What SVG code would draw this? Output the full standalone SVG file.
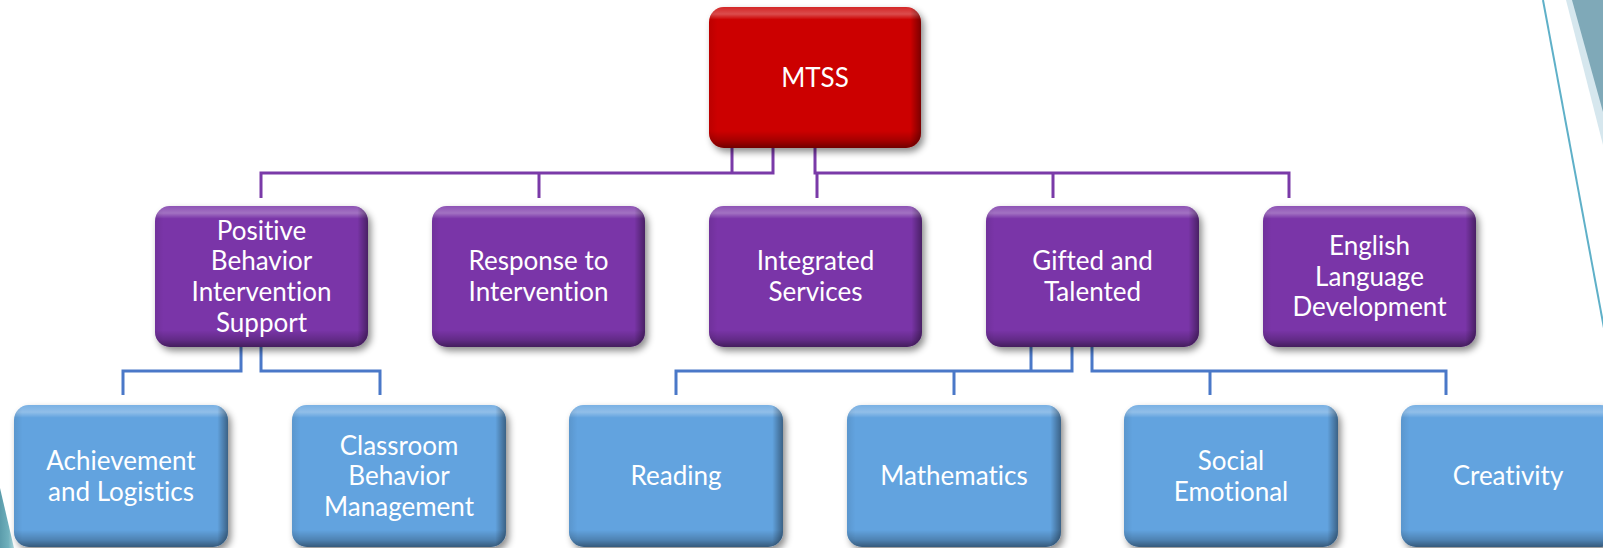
<svg xmlns="http://www.w3.org/2000/svg" width="1603" height="548" viewBox="0 0 1603 548">
<style>
.lbl{font-family:Lato,"Open Sans","Liberation Sans",sans-serif;font-size:26px;fill:#ffffff;text-anchor:middle;font-variant-ligatures:none;font-feature-settings:"liga" 0}
.pc{fill:none;stroke:#7a3aa8;stroke-width:3}
.bc{fill:none;stroke:#4a78c8;stroke-width:3}
.red{fill:#cc0000}
.pur{fill:#7a35a8}
.blu{fill:#62a3df}
.bev{fill:url(#bevV)}
.bevh{fill:url(#bevH)}
</style>
<defs>
<filter id="sh" x="-10%" y="-10%" width="125%" height="130%">
<feDropShadow dx="3" dy="4" stdDeviation="3.5" flood-color="#000" flood-opacity="0.45"/>
</filter>
<linearGradient id="bevV" x1="0" y1="0" x2="0" y2="1">
<stop offset="0" stop-color="#fff" stop-opacity="0.15"/>
<stop offset="0.05" stop-color="#fff" stop-opacity="0.3"/>
<stop offset="0.09" stop-color="#fff" stop-opacity="0"/>
<stop offset="0.88" stop-color="#000" stop-opacity="0"/>
<stop offset="0.95" stop-color="#000" stop-opacity="0.2"/>
<stop offset="1" stop-color="#000" stop-opacity="0.45"/>
</linearGradient>
<linearGradient id="bevH" x1="0" y1="0" x2="1" y2="0">
<stop offset="0" stop-color="#000" stop-opacity="0.08"/>
<stop offset="0.04" stop-color="#000" stop-opacity="0"/>
<stop offset="0.95" stop-color="#000" stop-opacity="0"/>
<stop offset="1" stop-color="#000" stop-opacity="0.4"/>
</linearGradient>
<linearGradient id="tealBL" x1="0" y1="0" x2="1" y2="0">
<stop offset="0" stop-color="#5b9cab"/>
<stop offset="0.6" stop-color="#6fb0bc"/>
<stop offset="1" stop-color="#a9d4da"/>
</linearGradient>
</defs>
<rect width="1603" height="548" fill="#ffffff"/>
<g id="decor">
<polygon points="1566,0 1603,0 1603,145" fill="#d6e7ee"/>
<polygon points="1572,0 1603,0 1603,112" fill="#7fa9b8"/>
<line x1="1543" y1="0" x2="1614" y2="382" stroke="#5fb0c8" stroke-width="2"/>
<polygon points="0,488 14,548 0,548" fill="url(#tealBL)"/>
</g>
<g id="connectors">
<path class="pc" d="M732,148 V173 M773,148 V173 H261 V198 M539,173 V198 M815,148 V173 H1289 V198 M817,173 V198 M1053,173 V198"/>
<path class="bc" d="M241,347 V371 H123 V395 M261,347 V371 H380 V395 M1031,347 V371 M1072,347 V371 H676 V395 M954,371 V395 M1092,347 V371 H1446 V395 M1210,371 V395"/>
</g>
<g id="n-mtss">
<rect class="red" x="709" y="7" width="212" height="141" rx="15" filter="url(#sh)"/>
<rect class="bev" x="709" y="7" width="212" height="141" rx="15"/>
<rect class="bevh" x="709" y="7" width="212" height="141" rx="15"/>
<text class="lbl" x="815" y="86.7">MTSS</text>
</g>
<g id="n-pbis">
<rect class="pur" x="155" y="206" width="213" height="141" rx="15" filter="url(#sh)"/>
<rect class="bev" x="155" y="206" width="213" height="141" rx="15"/>
<rect class="bevh" x="155" y="206" width="213" height="141" rx="15"/>
<text class="lbl" x="261.5" y="239.7">Positive</text>
<text class="lbl" x="261.5" y="270.4">Behavior</text>
<text class="lbl" x="261.5" y="301">Intervention</text>
<text class="lbl" x="261.5" y="331.8">Support</text>
</g>
<g id="n-rti">
<rect class="pur" x="432" y="206" width="213" height="141" rx="15" filter="url(#sh)"/>
<rect class="bev" x="432" y="206" width="213" height="141" rx="15"/>
<rect class="bevh" x="432" y="206" width="213" height="141" rx="15"/>
<text class="lbl" x="538.5" y="270.4">Response to</text>
<text class="lbl" x="538.5" y="301">Intervention</text>
</g>
<g id="n-integrated">
<rect class="pur" x="709" y="206" width="213" height="141" rx="15" filter="url(#sh)"/>
<rect class="bev" x="709" y="206" width="213" height="141" rx="15"/>
<rect class="bevh" x="709" y="206" width="213" height="141" rx="15"/>
<text class="lbl" x="815.5" y="270.4">Integrated</text>
<text class="lbl" x="815.5" y="301">Services</text>
</g>
<g id="n-gifted">
<rect class="pur" x="986" y="206" width="213" height="141" rx="15" filter="url(#sh)"/>
<rect class="bev" x="986" y="206" width="213" height="141" rx="15"/>
<rect class="bevh" x="986" y="206" width="213" height="141" rx="15"/>
<text class="lbl" x="1092.5" y="270.4">Gifted and</text>
<text class="lbl" x="1092.5" y="301">Talented</text>
</g>
<g id="n-eld">
<rect class="pur" x="1263" y="206" width="213" height="141" rx="15" filter="url(#sh)"/>
<rect class="bev" x="1263" y="206" width="213" height="141" rx="15"/>
<rect class="bevh" x="1263" y="206" width="213" height="141" rx="15"/>
<text class="lbl" x="1369.5" y="255">English</text>
<text class="lbl" x="1369.5" y="285.7">Language</text>
<text class="lbl" x="1369.5" y="316.4">Development</text>
</g>
<g id="n-achievement">
<rect class="blu" x="14" y="405" width="214" height="142" rx="15" filter="url(#sh)"/>
<rect class="bev" x="14" y="405" width="214" height="142" rx="15"/>
<rect class="bevh" x="14" y="405" width="214" height="142" rx="15"/>
<text class="lbl" x="121" y="469.9">Achievement</text>
<text class="lbl" x="121" y="500.6">and Logistics</text>
</g>
<g id="n-classroom">
<rect class="blu" x="292" y="405" width="214" height="142" rx="15" filter="url(#sh)"/>
<rect class="bev" x="292" y="405" width="214" height="142" rx="15"/>
<rect class="bevh" x="292" y="405" width="214" height="142" rx="15"/>
<text class="lbl" x="399" y="454.5">Classroom</text>
<text class="lbl" x="399" y="485.2">Behavior</text>
<text class="lbl" x="399" y="515.9">Management</text>
</g>
<g id="n-reading">
<rect class="blu" x="569" y="405" width="214" height="142" rx="15" filter="url(#sh)"/>
<rect class="bev" x="569" y="405" width="214" height="142" rx="15"/>
<rect class="bevh" x="569" y="405" width="214" height="142" rx="15"/>
<text class="lbl" x="676" y="485.2">Reading</text>
</g>
<g id="n-math">
<rect class="blu" x="847" y="405" width="214" height="142" rx="15" filter="url(#sh)"/>
<rect class="bev" x="847" y="405" width="214" height="142" rx="15"/>
<rect class="bevh" x="847" y="405" width="214" height="142" rx="15"/>
<text class="lbl" x="954" y="485.2">Mathematics</text>
</g>
<g id="n-social">
<rect class="blu" x="1124" y="405" width="214" height="142" rx="15" filter="url(#sh)"/>
<rect class="bev" x="1124" y="405" width="214" height="142" rx="15"/>
<rect class="bevh" x="1124" y="405" width="214" height="142" rx="15"/>
<text class="lbl" x="1231" y="469.9">Social</text>
<text class="lbl" x="1231" y="500.6">Emotional</text>
</g>
<g id="n-creativity">
<rect class="blu" x="1401" y="405" width="214" height="142" rx="15" filter="url(#sh)"/>
<rect class="bev" x="1401" y="405" width="214" height="142" rx="15"/>
<rect class="bevh" x="1401" y="405" width="214" height="142" rx="15"/>
<text class="lbl" x="1508" y="485.2">Creativity</text>
</g>
</svg>
